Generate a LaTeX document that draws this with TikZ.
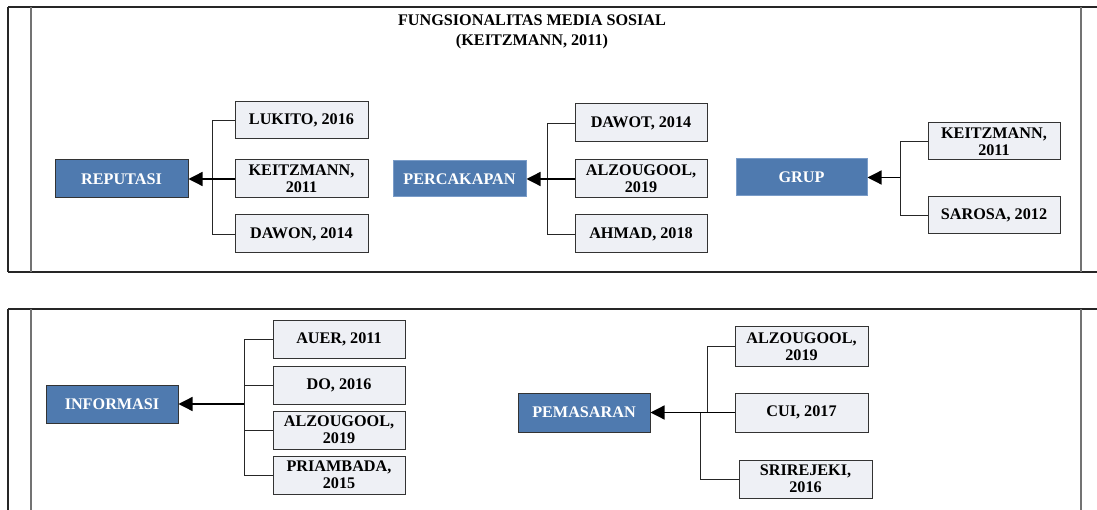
\documentclass[tikz,border=0pt]{standalone}
\usepackage{fontspec}
\setmainfont{Liberation Serif}
\usetikzlibrary{arrows.meta}
\definecolor{topicblue}{HTML}{4F7AAF}
\definecolor{topicedge}{HTML}{7A9CC8}
\definecolor{refill}{HTML}{EEF0F5}
\tikzset{
  base/.style={inner sep=0pt, align=center, font=\fontsize{16.2}{17}\selectfont\bfseries},
  topic/.style={base, fill=topicblue, draw=black!80, line width=1pt, text=white,
    minimum width=132pt, minimum height=38pt},
  softtopic/.style={topic, draw=topicedge},
  ref/.style={base, fill=refill, draw=black!80, line width=1pt,
    minimum width=132pt, minimum height=38pt},
  conn/.style={draw=black!85, line width=0.9pt},
  feed/.style={draw=black, line width=1.3pt, -{Triangle[length=14pt,width=14pt]}},
  frame/.style={draw=black!85, line width=1.2pt},
  divider/.style={draw=black!55, line width=1.4pt}
}
\begin{document}
\begin{tikzpicture}[x=1pt,y=-1pt]
\useasboundingbox (0,0) rectangle (1097,510);

% ---- upper panel frame
\draw[frame] (8,7) -- (1097,7);
\draw[frame] (8,272) -- (1097,272);
\draw[frame] (8,7) -- (8,272);
\draw[divider] (31,7) -- (31,272);
\draw[divider] (1081,7) -- (1081,272);

% ---- lower panel frame
\draw[frame] (8,309) -- (1097,309);
\draw[frame] (8,309) -- (8,510);
\draw[divider] (31,309) -- (31,510);
\draw[divider] (1081,309) -- (1081,510);

% ---- title
\node[base, font=\fontsize{16.2}{20}\selectfont\bfseries] (title) at (532,32) {FUNGSIONALITAS MEDIA SOSIAL\\(KEITZMANN, 2011)};

% ---- Reputasi
\node[topic, minimum width=133pt] (rep) at (121.5,179) {REPUTASI};
\node[ref, minimum width=133pt, minimum height=37pt] (lukito) at (301.5,120.5) {LUKITO, 2016};
\node[ref, minimum width=133pt] (keitzA) at (301.5,179) {KEITZMANN,\\2011};
\node[ref, minimum width=133pt] (dawon) at (301.5,234) {DAWON, 2014};
\coordinate (jA) at (212,179);
\draw[conn] (lukito.west) -| (jA |- dawon.west) -- (dawon.west);
\draw[feed] (keitzA.west) -- (rep.east);

% ---- Percakapan
\node[softtopic, minimum width=133pt, minimum height=36pt] (perc) at (459.5,179) {PERCAKAPAN};
\node[ref] (dawot) at (641,123) {DAWOT, 2014};
\node[ref] (alzA) at (641,179) {ALZOUGOOL,\\2019};
\node[ref] (ahmad) at (641,234) {AHMAD, 2018};
\coordinate (jB) at (547,179);
\draw[conn] (dawot.west) -| (jB |- ahmad.west) -- (ahmad.west);
\draw[feed] (alzA.west) -- (perc.east);

% ---- Grup
\node[softtopic, minimum width=131pt, minimum height=37pt] (grup) at (801.5,177.5) {GRUP};
\node[ref, minimum height=37pt] (keitzB) at (994,141.5) {KEITZMANN,\\2011};
\node[ref, minimum height=37pt] (sarosa) at (994,215.5) {SAROSA, 2012};
\coordinate (jC) at (900,177.5);
\draw[conn] (keitzB.west) -| (jC |- sarosa.west) -- (sarosa.west);
\draw[feed] (jC) -- (grup.east);

% ---- Informasi
\node[topic] (info) at (112,404) {INFORMASI};
\node[ref, minimum height=37pt] (auer) at (339,339.5) {AUER, 2011};
\node[ref] (do) at (339,385) {DO, 2016};
\node[ref] (alzB) at (339,430) {ALZOUGOOL,\\2019};
\node[ref] (pri) at (339,475) {PRIAMBADA,\\2015};
\coordinate (jD) at (244,404);
\draw[conn] (auer.west) -| (jD |- pri.west) -- (pri.west);
\draw[conn] (do.west) -- (jD |- do.west);
\draw[conn] (alzB.west) -- (jD |- alzB.west);
\draw[feed] (jD) -- (info.east);

% ---- Pemasaran
\node[topic, minimum height=39pt] (pem) at (584,412.5) {PEMASARAN};
\node[ref, minimum width=133pt, minimum height=39pt] (alzC) at (801.5,346.5) {ALZOUGOOL,\\2019};
\node[ref, minimum width=133pt, minimum height=39pt] (cui) at (801.5,412.5) {CUI, 2017};
\node[ref, minimum width=133pt] (sri) at (805.5,479) {SRIREJEKI,\\2016};
\coordinate (jE) at (707,412.5);
\coordinate (jF) at (700,412.5);
\draw[conn] (alzC.west) -| (jE);
\draw[conn] (sri.west) -| (jF);
\draw[feed] (cui.west) -- (pem.east);
\end{tikzpicture}
\end{document}
